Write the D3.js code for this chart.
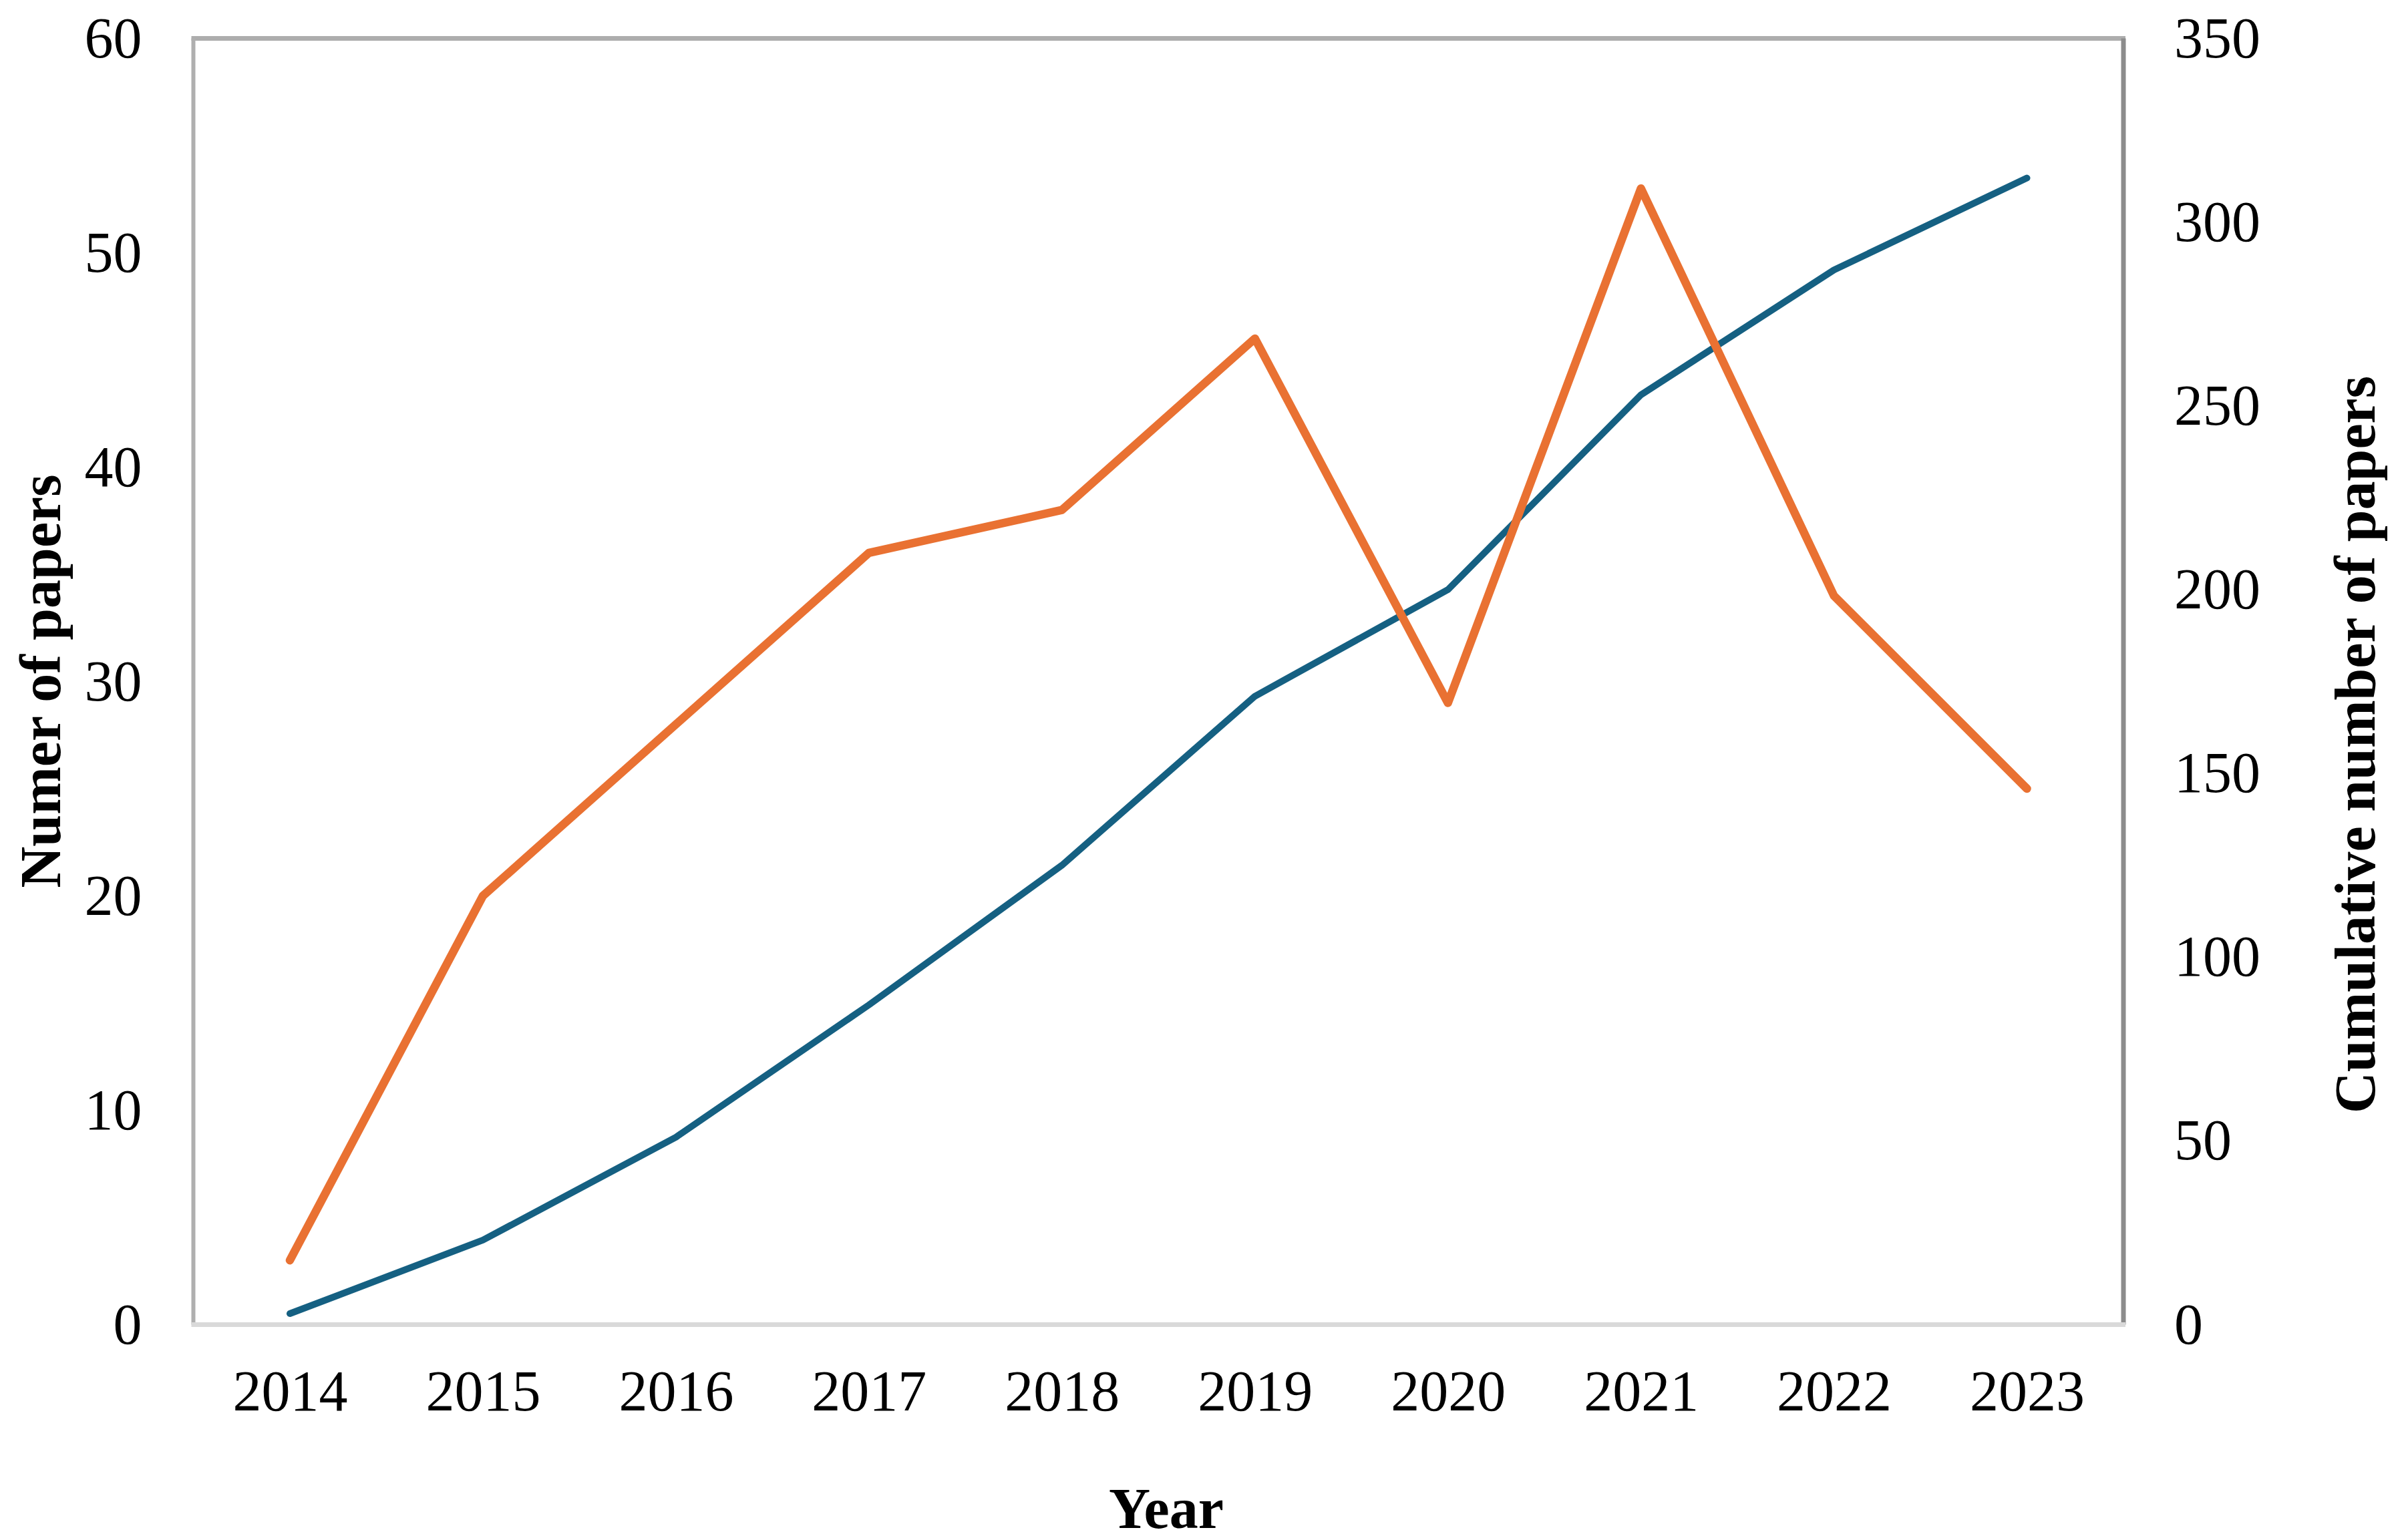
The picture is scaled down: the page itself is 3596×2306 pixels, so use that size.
<!DOCTYPE html>
<html>
<head>
<meta charset="utf-8">
<script src="https://cdn.jsdelivr.net/npm/d3@7/dist/d3.min.js"></script>
<style>
  html, body { margin: 0; padding: 0; background: #ffffff; }
  svg { display: block; }
  text { font-family: "Liberation Serif", "Times New Roman", serif; fill: #000; }
</style>
</head>
<body>
<svg id="chart" width="3596" height="2306"></svg>
<script>
const years = ["2014","2015","2016","2017","2018","2019","2020","2021","2022","2023"];
const papers = [3, 20, 28, 36, 38, 46, 29, 53, 34, 25];
const cumulative = [3, 23, 51, 87, 125, 171, 200, 253, 287, 312];
const leftTicks = [0, 10, 20, 30, 40, 50, 60];
const rightTicks = [0, 50, 100, 150, 200, 250, 300, 350];
const xTitle = "Year";
const leftTitle = "Numer of papers";
const rightTitle = "Cumulative number of papers";

const W = 3596, H = 2306;
const plot = { left: 289.5, right: 3179, top: 57.5, bottom: 1983.5 };
const svg = d3.select("#chart");

const x = d3.scalePoint().domain(years).range([plot.left, plot.right]).padding(0.5);
const yL = d3.scaleLinear().domain([0, 60]).range([plot.bottom, plot.top]);
const yR = d3.scaleLinear().domain([0, 350]).range([plot.bottom, plot.top]);

const fontSize = 86;

// Frame lines
svg.append("line").attr("x1", plot.left - 3).attr("x2", plot.right + 3)
  .attr("y1", plot.top).attr("y2", plot.top)
  .attr("stroke", "#adadad").attr("stroke-width", 7);
svg.append("line").attr("x1", plot.left).attr("x2", plot.left)
  .attr("y1", plot.top).attr("y2", plot.bottom)
  .attr("stroke", "#afafaf").attr("stroke-width", 6);
svg.append("line").attr("x1", plot.right).attr("x2", plot.right)
  .attr("y1", plot.top).attr("y2", plot.bottom)
  .attr("stroke", "#8c8c8c").attr("stroke-width", 7);
svg.append("line").attr("x1", plot.left - 3).attr("x2", plot.right + 3)
  .attr("y1", plot.bottom).attr("y2", plot.bottom)
  .attr("stroke", "#d9d9d9").attr("stroke-width", 7);

// Left axis
const axL = d3.axisLeft(yL).tickValues(leftTicks).tickSize(0).tickPadding(77);
const gL = svg.append("g").attr("transform", `translate(${plot.left},0)`).call(axL);
gL.select(".domain").remove();
gL.selectAll("text").style("font-size", fontSize + "px")
  .style("font-family", '"Liberation Serif", "Times New Roman", serif').attr("fill", "#000");

// Right axis
const axR = d3.axisRight(yR).tickValues(rightTicks).tickSize(0).tickPadding(76);
const gR = svg.append("g").attr("transform", `translate(${plot.right},0)`).call(axR);
gR.select(".domain").remove();
gR.selectAll("text").style("font-size", fontSize + "px")
  .style("font-family", '"Liberation Serif", "Times New Roman", serif').attr("fill", "#000");

// Bottom axis
const axB = d3.axisBottom(x).tickSize(0).tickPadding(0);
const gB = svg.append("g").attr("transform", `translate(0,${plot.bottom})`).call(axB);
gB.select(".domain").remove();
gB.selectAll("text").style("font-size", fontSize + "px")
  .style("font-family", '"Liberation Serif", "Times New Roman", serif').attr("fill", "#000")
  .attr("y", 2112 - plot.bottom).attr("dy", "0");

// Lines
const lineL = d3.line().x((d, i) => x(years[i])).y(d => yL(d));
const lineR = d3.line().x((d, i) => x(years[i])).y(d => yR(d));

svg.append("path").datum(cumulative).attr("d", lineR)
  .attr("fill", "none").attr("stroke", "#156082").attr("stroke-width", 10)
  .attr("stroke-linecap", "round").attr("stroke-linejoin", "round");
svg.append("path").datum(papers).attr("d", lineL)
  .attr("fill", "none").attr("stroke", "#E97132").attr("stroke-width", 12.5)
  .attr("stroke-linecap", "round").attr("stroke-linejoin", "round");

// Titles
svg.append("text").attr("x", 1746).attr("y", 2288).attr("text-anchor", "middle")
  .style("font-size", fontSize + "px").style("font-weight", "bold").text(xTitle);
svg.append("text").attr("transform", "translate(90,1020) rotate(-90)")
  .attr("text-anchor", "middle")
  .style("font-size", fontSize + "px").style("font-weight", "bold").text(leftTitle);
svg.append("text").attr("transform", "translate(3555,1115) rotate(-90)")
  .attr("text-anchor", "middle")
  .style("font-size", fontSize + "px").style("font-weight", "bold").text(rightTitle);
</script>
</body>
</html>
